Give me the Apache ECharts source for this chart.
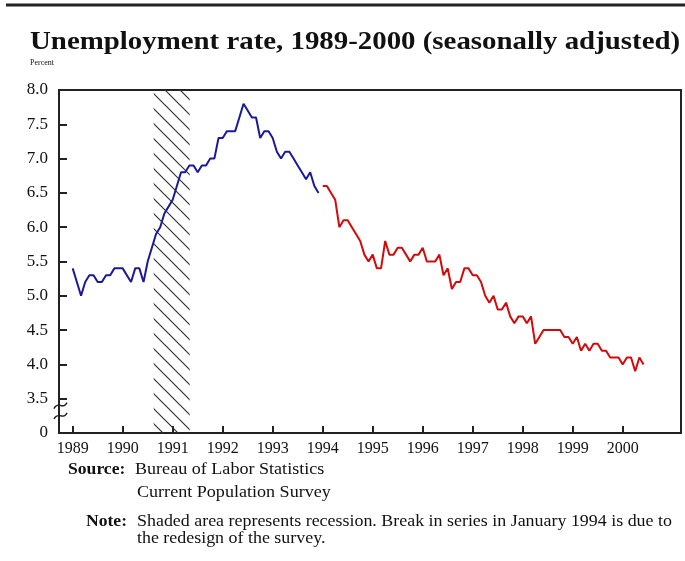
<!DOCTYPE html>
<html>
<head>
<meta charset="utf-8">
<title>Unemployment rate, 1989-2000</title>
<script src="https://cdn.jsdelivr.net/npm/echarts@6.0.0/dist/echarts.min.js"></script>
<style>
  html, body { margin: 0; padding: 0; background: #fff; }
  #chart { width: 685px; height: 561px; }
</style>
</head>
<body>
<div id="chart"></div>
<script>
// monthly rate, percent, seasonally adjusted
var oldSurvey = [ // Jan 1989 - Dec 1993
  5.4, 5.2, 5.0, 5.2, 5.3, 5.3, 5.2, 5.2, 5.3, 5.3, 5.4, 5.4,
  5.4, 5.3, 5.2, 5.4, 5.4, 5.2, 5.5, 5.7, 5.9, 6.0, 6.2, 6.3,
  6.4, 6.6, 6.8, 6.8, 6.9, 6.9, 6.8, 6.9, 6.9, 7.0, 7.0, 7.3,
  7.3, 7.4, 7.4, 7.4, 7.6, 7.8, 7.7, 7.6, 7.6, 7.3, 7.4, 7.4,
  7.3, 7.1, 7.0, 7.1, 7.1, 7.0, 6.9, 6.8, 6.7, 6.8, 6.6, 6.5
];
var newSurvey = [ // Jan 1994 - Jun 2000
  6.6, 6.6, 6.5, 6.4, 6.0, 6.1, 6.1, 6.0, 5.9, 5.8, 5.6, 5.5,
  5.6, 5.4, 5.4, 5.8, 5.6, 5.6, 5.7, 5.7, 5.6, 5.5, 5.6, 5.6,
  5.7, 5.5, 5.5, 5.5, 5.6, 5.3, 5.4, 5.1, 5.2, 5.2, 5.4, 5.4,
  5.3, 5.3, 5.2, 5.0, 4.9, 5.0, 4.8, 4.8, 4.9, 4.7, 4.6, 4.7,
  4.7, 4.6, 4.7, 4.3, 4.4, 4.5, 4.5, 4.5, 4.5, 4.5, 4.4, 4.4,
  4.3, 4.4, 4.2, 4.3, 4.2, 4.3, 4.3, 4.2, 4.2, 4.1, 4.1, 4.1,
  4.0, 4.1, 4.1, 3.9, 4.1, 4.0
];
var oldStart = 1989;
var newStart = 1994;
var yearTicks = [1989, 1990, 1991, 1992, 1993, 1994, 1995, 1996, 1997, 1998, 1999, 2000];
var recession = [1990.62, 1991.34];

var serif = '"Liberation Serif", "DejaVu Serif", serif';

function toPoints(values, startYear) {
  return values.map(function (v, i) {
    return [startYear + i / 12, v];
  });
}

// diagonal hatch for the recession band
function hatchCanvas() {
  var c = document.createElement('canvas');
  c.width = 15;
  c.height = 15;
  var g = c.getContext('2d');
  g.strokeStyle = '#333';
  g.lineWidth = 1.2;
  g.beginPath();
  g.moveTo(-3, -3); g.lineTo(18, 18);
  g.moveTo(-3, 12); g.lineTo(3, 18);
  g.moveTo(12, -3); g.lineTo(18, 3);
  g.stroke();
  return c;
}

var chart = echarts.init(document.getElementById('chart'));

var option = {
  animation: false,
  grid: {
    show: true,
    left: 59,
    right: 4,
    top: 90,
    bottom: 128,
    borderColor: '#222',
    borderWidth: 2,
    backgroundColor: 'transparent'
  },
  xAxis: {
    type: 'value',
    min: 1988.726,
    max: 2001.166,
    splitLine: { show: false },
    axisLine: { lineStyle: { color: '#222', width: 2 } },
    axisTick: {
      inside: true,
      length: 7,
      customValues: yearTicks,
      lineStyle: { color: '#222', width: 2 }
    },
    axisLabel: {
      customValues: yearTicks,
      margin: 8,
      color: '#111',
      fontFamily: serif,
      fontSize: 16,
      formatter: function (v) { return String(v); }
    }
  },
  yAxis: {
    type: 'value',
    min: 3,
    max: 8,
    interval: 0.5,
    splitLine: { show: false },
    axisLine: { show: true, lineStyle: { color: '#222', width: 2 } },
    axisTick: { show: true, inside: true, length: 8, lineStyle: { color: '#222', width: 2 } },
    axisLabel: {
      margin: 11,
      color: '#111',
      fontFamily: serif,
      fontSize: 17,
      formatter: function (v) { return v === 3 ? '0' : v.toFixed(1); }
    }
  },
  series: [
    {
      type: 'line',
      data: toPoints(oldSurvey, oldStart),
      showSymbol: false,
      lineStyle: { color: '#1a1a96', width: 2 },
      z: 3,
      markArea: {
        silent: true,
        itemStyle: { color: { image: hatchCanvas(), repeat: 'repeat' } },
        data: [[{ xAxis: recession[0] }, { xAxis: recession[1] }]]
      }
    },
    {
      type: 'line',
      data: toPoints(newSurvey, newStart),
      showSymbol: false,
      lineStyle: { color: '#d20a0a', width: 2 },
      z: 3
    }
  ]
};

chart.setOption(option);

// axis break marks, title and notes
var yA = chart.convertToPixel({ yAxisIndex: 0 }, 3.4);
var yB = chart.convertToPixel({ yAxisIndex: 0 }, 3.25);
function squiggle(y) {
  return {
    type: 'bezierCurve',
    shape: { x1: 54, y1: y + 3, cpx1: 58, cpy1: y - 5, cpx2: 63, cpy2: y + 5, x2: 67, y2: y - 3 },
    style: { stroke: '#222', lineWidth: 1.5, fill: null }
  };
}
function txt(x, y, s, size, bold, sx) {
  return {
    type: 'text',
    x: x,
    y: y,
    scaleX: sx || 1,
    style: {
      text: s,
      fontFamily: serif,
      fontSize: size,
      fontWeight: bold ? 'bold' : 'normal',
      fill: '#111',
      verticalAlign: 'middle'
    }
  };
}

chart.setOption({
  graphic: [
    { type: 'line', shape: { x1: 6, y1: 5, x2: 685, y2: 5 }, style: { stroke: '#222', lineWidth: 3 } },
    txt(30, 42, 'Unemployment rate, 1989-2000 (seasonally adjusted)', 26, true, 1.11),
    txt(30, 63, 'Percent', 8, false),
    squiggle(yA),
    squiggle(yB),
    txt(68, 470, 'Source:', 16, true, 1.1),
    txt(135, 470, 'Bureau of Labor Statistics', 16, false, 1.13),
    txt(137, 493, 'Current Population Survey', 16, false, 1.13),
    txt(86, 522, 'Note:', 16, true, 1.1),
    txt(137, 522, 'Shaded area represents recession. Break in series in January 1994 is due to', 16, false, 1.12),
    txt(137, 539, 'the redesign of the survey.', 16, false, 1.12)
  ]
});
</script>
</body>
</html>
